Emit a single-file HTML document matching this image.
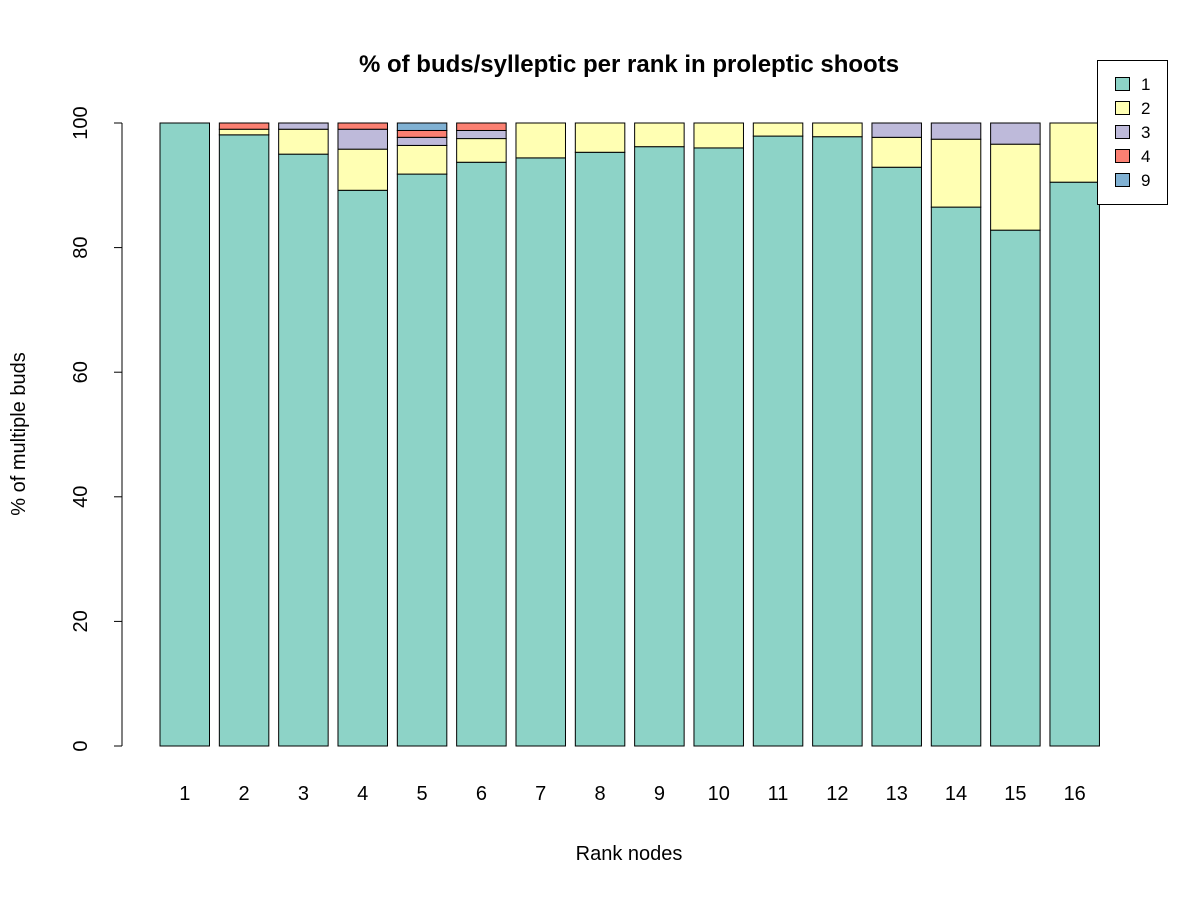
<!DOCTYPE html>
<html><head><meta charset="utf-8"><style>body{margin:0;background:#fff}svg{font-family:"Liberation Sans",Arial,sans-serif}</style></head>
<body>
<svg id="c" width="1200" height="900"></svg>
<script>
const categories=["1","2","3","4","5","6","7","8","9","10","11","12","13","14","15","16"];
const s1=[100,98.1,95.0,89.2,91.8,93.7,94.4,95.3,96.2,96.0,97.9,97.8,92.9,86.5,82.8,90.5];
const s2=[0,0.9,4.0,6.6,4.6,3.8,5.6,4.7,3.8,4.0,2.1,2.2,4.8,10.9,13.8,9.5];
const s3=[0,0,1.0,3.2,1.3,1.3,0,0,0,0,0,0,2.3,2.6,3.4,0];
const s4=[0,1.0,0,1.0,1.1,1.2,0,0,0,0,0,0,0,0,0,0];
const s9=[0,0,0,0,1.2,0,0,0,0,0,0,0,0,0,0,0];
const seriesNames=["1","2","3","4","9"];
const colors=["#8DD3C7","#FFFFB3","#BEBADA","#FB8072","#80B1D3"];
const yTicks=[0,20,40,60,80,100];
const series=[s1,s2,s3,s4,s9];
const NS="http://www.w3.org/2000/svg";
const svg=document.getElementById('c');
function el(t,a,txt){const e=document.createElementNS(NS,t);for(const k in a)e.setAttribute(k,a[k]);if(txt!=null)e.textContent=txt;svg.appendChild(e);return e;}
const y=v=>746-v*6.23;
const x0=160,step=59.33,bw=49.5;
const x=i=>x0+i*step;
categories.forEach((c,i)=>{
  let acc=0;
  series.forEach((s,k)=>{
    const v=s[i]; if(v<=0)return;
    const r=el('rect',{x:x(i),y:y(acc+v),width:bw,height:v*6.23,fill:colors[k],stroke:'#000','stroke-width':1});
    
    
    acc+=v;
  });
  const t=el('text',{x:x(i)+bw/2,y:800,'text-anchor':'middle','font-size':20},c);
  
  
});
const ax=el('line',{x1:122,x2:122,y1:y(0),y2:y(100),stroke:'#000'});


yTicks.forEach(v=>{
  const l=el('line',{x1:114,x2:122,y1:y(v),y2:y(v),stroke:'#000'});
  
  
  const t=el('text',{x:0,y:0,'text-anchor':'middle','font-size':20,transform:`translate(87,${y(v)}) rotate(-90)`},String(v));
  
  
});
const title=el('text',{x:629,y:72,'text-anchor':'middle','font-size':24,'font-weight':'bold'},'% of buds/sylleptic per rank in proleptic shoots');


const xt=el('text',{x:629,y:860,'text-anchor':'middle','font-size':20},'Rank nodes');


const yt=el('text',{x:0,y:0,'text-anchor':'middle','font-size':20,transform:'translate(25,434) rotate(-90)'},'% of multiple buds');


const lb=el('rect',{x:1097.5,y:60.5,width:70,height:144,fill:'#fff',stroke:'#000'});


seriesNames.forEach((n,k)=>{
  const cy=84+k*24;
  const r=el('rect',{x:1115.5,y:cy-6.5,width:14,height:13,fill:colors[k],stroke:'#000'});
  
  
  const t=el('text',{x:1141,y:cy+6,'font-size':17},n);
  
  
});
</script>
</body></html>
